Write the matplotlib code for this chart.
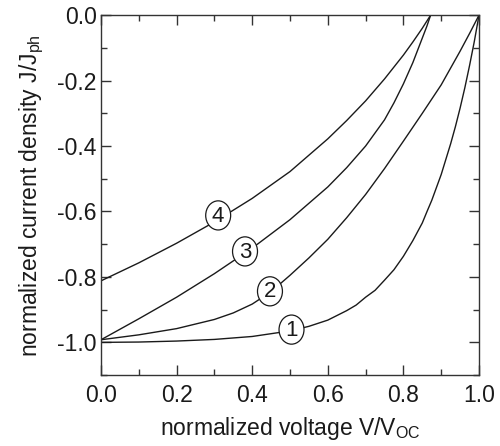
import numpy as np
import matplotlib.pyplot as plt
from matplotlib.patches import Ellipse
from matplotlib.ticker import MultipleLocator

plt.rcParams['font.family'] = ['Liberation Sans', 'DejaVu Sans']
plt.rcParams['mathtext.default'] = 'regular'

# curve 1
v1 = [0.0, 0.1, 0.2, 0.3, 0.4, 0.5, 0.55, 0.6, 0.65, 0.675, 0.7, 0.725,
      0.75, 0.775, 0.8, 0.825, 0.85, 0.8625, 0.875, 0.9, 0.925, 0.9375,
      0.95, 0.9625, 0.975, 0.9875, 1.0]
j1 = [-1.0, -0.999, -0.996, -0.991, -0.982, -0.965, -0.951, -0.932, -0.903,
      -0.886, -0.862, -0.841, -0.81, -0.778, -0.737, -0.689, -0.635, -0.60,
      -0.566, -0.487, -0.393, -0.341, -0.284, -0.222, -0.154, -0.081, 0.0]

# curve 2
v2 = [0.0, 0.1, 0.2, 0.3, 0.35, 0.4, 0.45, 0.5, 0.55, 0.6, 0.65, 0.7, 0.75,
      0.8, 0.85, 0.9, 0.95, 0.975, 1.0]
j2 = [-0.992, -0.977, -0.958, -0.93, -0.91, -0.883, -0.845, -0.795, -0.742,
      -0.685, -0.619, -0.548, -0.469, -0.385, -0.30, -0.213, -0.11, -0.056,
      0.0]

# curve 3
v3 = [0.0, 0.1, 0.2, 0.3, 0.4, 0.5, 0.6, 0.65, 0.7, 0.75, 0.775, 0.8,
      0.825, 0.85, 0.862, 0.872]
j3 = [-0.992, -0.928, -0.862, -0.79, -0.712, -0.625, -0.525, -0.466, -0.40,
      -0.32, -0.268, -0.21, -0.145, -0.07, -0.034, 0.0]

# curve 4
v4 = [0.0, 0.1, 0.2, 0.3, 0.4, 0.5, 0.6, 0.65, 0.7, 0.75, 0.8, 0.825, 0.85,
      0.872]
j4 = [-0.812, -0.757, -0.697, -0.632, -0.56, -0.478, -0.378, -0.322, -0.262,
      -0.195, -0.122, -0.082, -0.04, 0.0]

curve_names = ['1', '2', '3', '4']
label_x = [0.504, 0.447, 0.381, 0.31]
label_y = [-0.961, -0.844, -0.722, -0.612]

fig = plt.figure(figsize=(5.0, 4.46), dpi=100)
ax = fig.add_axes([0.202, 0.159, 0.756, 0.807])

for v, j in [(v1, j1), (v2, j2), (v3, j3), (v4, j4)]:
    ax.plot(v, j, color='#1a1a1a', lw=1.0, zorder=2)

# numbered ellipses on the curves
for name, x, y in zip(curve_names, label_x, label_y):
    ax.add_patch(Ellipse((x, y), 0.066, 0.089, facecolor='white',
                         edgecolor='#1a1a1a', lw=0.9, zorder=3))
    ax.text(x, y - 0.002, name, ha='center', va='center', fontsize=16,
            color='#1a1a1a', zorder=4)

ax.set_xlim(0, 1.0)
ax.set_ylim(-1.1, 0.0)
ax.xaxis.set_major_locator(MultipleLocator(0.2))
ax.xaxis.set_minor_locator(MultipleLocator(0.1))
ax.yaxis.set_major_locator(MultipleLocator(0.2))
ax.yaxis.set_minor_locator(MultipleLocator(0.1))
ax.xaxis.set_major_formatter(plt.FormatStrFormatter('%.1f'))
ax.yaxis.set_major_formatter(plt.FormatStrFormatter('%.1f'))

ax.tick_params(which='both', direction='in', top=True, right=True,
               colors='#333333', labelcolor='#1a1a1a', labelsize=16.5)
ax.tick_params(which='major', length=7.5, width=1.0)
ax.tick_params(which='minor', length=4, width=1.0)
ax.tick_params(axis='x', pad=6.5)
ax.tick_params(axis='y', pad=3)
for s in ax.spines.values():
    s.set_color('#333333')
    s.set_linewidth(1.0)

ax.set_xlabel('normalized voltage V/V$_{OC}$', fontsize=16.5,
              color='#1a1a1a', labelpad=6)
ax.set_ylabel('normalized current density J/J$_{ph}$', fontsize=16.5,
              color='#1a1a1a', labelpad=8)

fig.savefig('out.png', dpi=100)
